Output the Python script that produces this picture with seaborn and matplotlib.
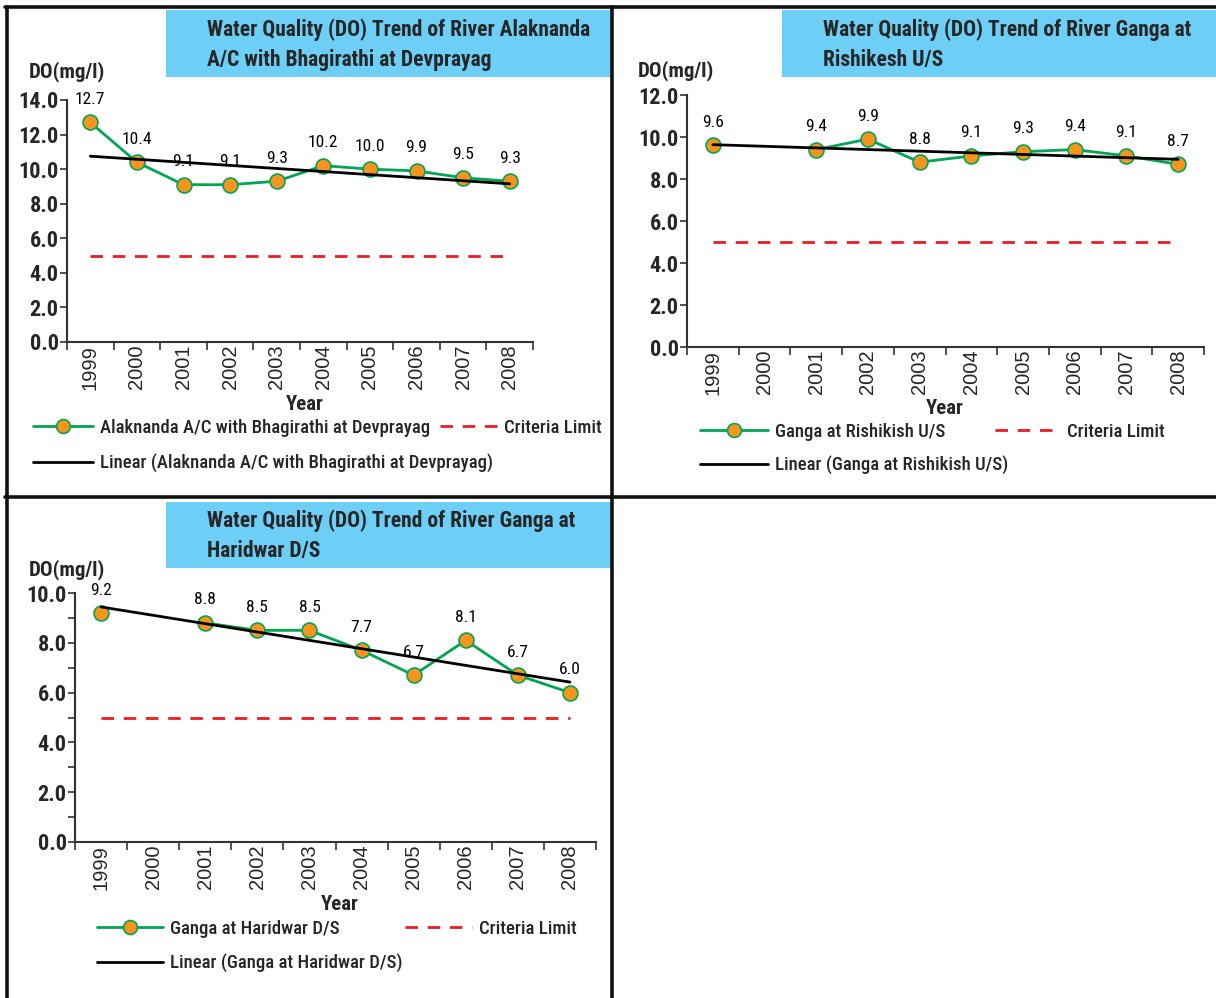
import numpy as np
import pandas as pd
import seaborn as sns
import matplotlib
matplotlib.use("Agg")
import matplotlib.pyplot as plt
from matplotlib import font_manager
from matplotlib.lines import Line2D
from matplotlib.patches import Rectangle
from matplotlib.ticker import MultipleLocator, FixedLocator, NullFormatter

# ---------------- data ----------------
years = ["1999", "2000", "2001", "2002", "2003", "2004", "2005", "2006", "2007", "2008"]
alaknanda_do = [12.7, 10.4, 9.1, 9.1, 9.3, 10.2, 10.0, 9.9, 9.5, 9.3]
rishikesh_do = [9.6, np.nan, 9.4, 9.9, 8.8, 9.1, 9.3, 9.4, 9.1, 8.7]
haridwar_do = [9.2, np.nan, 8.8, 8.5, 8.5, 7.7, 6.7, 8.1, 6.7, 6.0]
criteria_limit = 5.0

titles = [
    "Water Quality (DO) Trend of River Alaknanda\nA/C with Bhagirathi at Devprayag",
    "Water Quality (DO) Trend of River Ganga at\nRishikesh U/S",
    "Water Quality (DO) Trend of River Ganga at\nHaridwar D/S",
]
series_names = [
    "Alaknanda A/C with Bhagirathi at Devprayag",
    "Ganga at Rishikish U/S",
    "Ganga at Haridwar D/S",
]
ymax_list = [14, 12, 10]

# ---------------- fonts ----------------
def pick_font(cands):
    for c in cands:
        try:
            font_manager.findfont(font_manager.FontProperties(family=c), fallback_to_default=False)
            return c
        except Exception:
            pass
    return "DejaVu Sans"

sns.set_theme(style="white")
NARROW = pick_font(["Liberation Sans Narrow", "Roboto Condensed", "DejaVu Sans Condensed", "DejaVu Sans"])
ARIAL = pick_font(["Liberation Sans", "DejaVu Sans"])
plt.rcParams["font.family"] = [NARROW, "DejaVu Sans"]

GREEN = "#00A651"
ORANGE = "#F7941D"
RED = "#ED1C24"
BLUE = "#6DCFF6"

W, H = 1216, 998
fig = plt.figure(figsize=(W / 100, H / 100), dpi=100)

def fx(px):
    return px / W

def fy(py):
    return 1 - py / H

# axes rects in pixels: left, right, top, bottom
axes_px = [(67, 533, 100, 342), (687, 1204, 95, 347), (75, 596, 593, 842)]
title_boxes = [(166, 612, 10, 77), (782, 1216, 10, 77), (166, 612, 502, 568)]
ylabel_pos = [(29, 72), (638, 71), (29, 570)]
xlabel_pos = [(305, 404), (945, 408), (340, 905)]
# legend: series line x0, handle px, row1 y, row2 y, criteria x0, criteria handle px
legend_pos = [(33, 60, 428, 463, 440, 57), (700, 68, 432, 465, 995, 65), (97, 66, 929, 963, 405, 67)]
all_data = [alaknanda_do, rishikesh_do, haridwar_do]

LEG_FS = 13.5

for i in range(3):
    l, r, t, b = axes_px[i]
    ax = fig.add_axes([fx(l), fy(b), fx(r) - fx(l), fy(t) - fy(b)])
    vals = all_data[i]
    df = pd.DataFrame({"x": np.arange(len(years)), "DO": vals})

    # main series (gaps kept for missing years)
    ax.plot(df["x"], df["DO"], color=GREEN, lw=2.0, zorder=3)
    sns.scatterplot(data=df, x="x", y="DO", ax=ax, s=115, color=ORANGE,
                    edgecolor=GREEN, linewidth=1.2, zorder=4, legend=False)

    # linear trend
    m = ~np.isnan(df["DO"].values)
    coef = np.polyfit(df["x"].values[m] + 1, df["DO"].values[m], 1)
    xs = np.array([0, len(years) - 1])
    ax.plot(xs, np.polyval(coef, xs + 1), color="black", lw=2.0, zorder=5)

    # criteria limit
    ax.plot(xs, [criteria_limit, criteria_limit], color=RED, lw=2.0,
            dashes=(4.5, 3.5), zorder=2)

    # data labels
    for xi, v in zip(df["x"], df["DO"]):
        if not np.isnan(v):
            ax.annotate(f"{v:.1f}", (xi, v), xytext=(0, 16.5), textcoords="offset points",
                        ha="center", va="center", fontsize=12.5, color="black", zorder=6)

    ax.set_xlim(-0.5, len(years) - 0.5)
    ax.set_ylim(0, ymax_list[i])
    ax.set_xlabel("")
    ax.set_ylabel("")
    ax.yaxis.set_major_locator(MultipleLocator(2))
    ax.set_yticklabels([f"{v:.1f}" for v in ax.get_yticks()], fontsize=16, fontweight="bold")
    if i == 2:
        ax.yaxis.set_minor_locator(MultipleLocator(1))
        ax.tick_params(axis="y", which="minor", length=5, width=1.2, color="#333333", left=True)
    # x ticks at category boundaries, labels at centers
    ax.xaxis.set_major_locator(FixedLocator(np.arange(-0.5, len(years), 1.0)))
    ax.xaxis.set_major_formatter(NullFormatter())
    ax.set_xticks(np.arange(len(years)), minor=True)
    ax.set_xticklabels(years, minor=True, rotation=90, fontsize=14.5, family=ARIAL)
    ax.tick_params(axis="x", which="major", length=6, width=1.2, color="#333333", bottom=True)
    ax.tick_params(axis="x", which="minor", length=0, pad=2, bottom=True)
    ax.tick_params(axis="y", which="major", length=5, width=1.2, color="#333333", left=True, pad=1)
    sns.despine(ax=ax)
    for s in ["left", "bottom"]:
        ax.spines[s].set_color("#333333")
        ax.spines[s].set_linewidth(1.5)
    ax.set_facecolor("none")
    ax.grid(False)

    # title box
    tl, tr, tt, tb = title_boxes[i]
    fig.add_artist(Rectangle((fx(tl), fy(tb)), fx(tr) - fx(tl), fy(tt) - fy(tb),
                             transform=fig.transFigure, facecolor=BLUE, edgecolor="none", zorder=0))
    fig.text(fx(tl + 41), fy((tt + tb) / 2 + 1), titles[i], ha="left", va="center",
             fontsize=15.5, fontweight="bold", linespacing=1.45)

    # axis titles
    yx, yy = ylabel_pos[i]
    fig.text(fx(yx), fy(yy), "DO(mg/l)", ha="left", va="center", fontsize=15, fontweight="bold")
    xx, xy = xlabel_pos[i]
    fig.text(fx(xx), fy(xy), "Year", ha="center", va="center", fontsize=15, fontweight="bold")

    # legend entries
    lx, lpx, ly1, ly2, cx, cpx = legend_pos[i]
    h_series = Line2D([], [], color=GREEN, lw=2.0, marker="o", markersize=10,
                      markerfacecolor=ORANGE, markeredgecolor=GREEN, markeredgewidth=1.2)
    h_crit = Line2D([], [], color=RED, lw=2.0, dashes=(4.5, 3.5))
    h_lin = Line2D([], [], color="black", lw=2.0)
    hl1 = lpx * 0.72 / LEG_FS
    hl2 = cpx * 0.72 / LEG_FS
    pad = 7 * 0.72 / LEG_FS
    common = dict(loc="center left", frameon=False, borderpad=0, borderaxespad=0,
                  prop={"size": LEG_FS, "weight": "medium"})
    fig.legend([h_series], [series_names[i]], bbox_to_anchor=(fx(lx), fy(ly1)),
               handlelength=hl1, handletextpad=pad, **common)
    fig.legend([h_crit], ["Criteria Limit"], bbox_to_anchor=(fx(cx), fy(ly1)),
               handlelength=hl2, handletextpad=pad, **common)
    fig.legend([h_lin], [f"Linear ({series_names[i]})"], bbox_to_anchor=(fx(lx), fy(ly2)),
               handlelength=hl1, handletextpad=pad, **common)

# panel borders
lw_b = 2.6
border_lines = [
    ((5, 1216), (7, 7)),
    ((6.5, 6.5), (7, 998)),
    ((612, 612), (7, 998)),
    ((5, 1216), (497, 497)),
]
for (x0, x1), (y0, y1) in border_lines:
    fig.add_artist(Line2D([fx(x0), fx(x1)], [fy(y0), fy(y1)], transform=fig.transFigure,
                          color="#111111", lw=lw_b, zorder=10))

fig.savefig("out.png", dpi=100, facecolor="white")
